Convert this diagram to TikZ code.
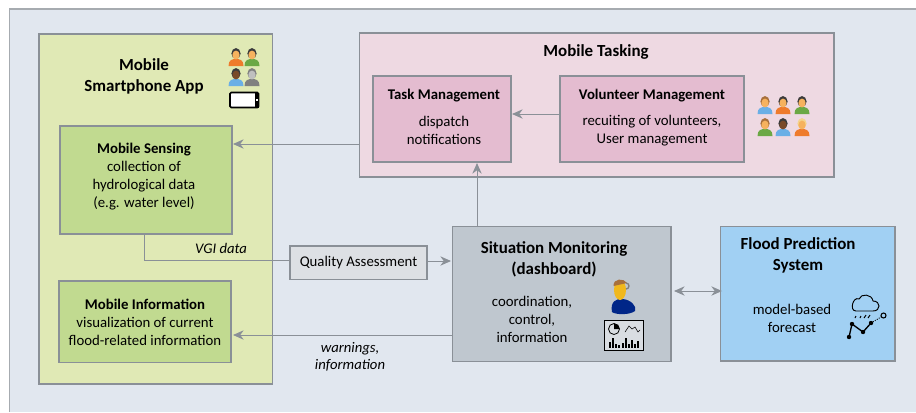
\documentclass[tikz,border=0pt]{standalone}
\usepackage{fontspec}
\usetikzlibrary{arrows.meta}
\setmainfont{Carlito}

\definecolor{framegray}{HTML}{A6ABB0}
\definecolor{linegray}{HTML}{8A9097}
\definecolor{backblue}{HTML}{E1E7EF}
\definecolor{appgreen}{HTML}{E0E9B5}
\definecolor{modgreen}{HTML}{C1DA90}
\definecolor{taskpink}{HTML}{EED9E2}
\definecolor{modpink}{HTML}{E4BCD0}
\definecolor{qualgray}{HTML}{DDE0E4}
\definecolor{monigray}{HTML}{BFC7CF}
\definecolor{floodblue}{HTML}{A1D0F3}
\definecolor{skintone}{HTML}{F6B25E}
\definecolor{darkskin}{HTML}{7A4A28}
\definecolor{hairdark}{HTML}{3B3B3B}
\definecolor{hairbrown}{HTML}{A8703C}
\definecolor{hairblond}{HTML}{F4D48C}
\definecolor{shirtblue}{HTML}{6AAFE6}
\definecolor{shirtorange}{HTML}{EE7B2C}
\definecolor{shirtgreen}{HTML}{6BA845}

\tikzset{
	box/.style={draw=linegray, line width=1pt, inner sep=0pt, align=center},
	title/.style={font=\fontsize{12.7}{15.75}\selectfont\bfseries, align=center, inner sep=0pt, yshift=-1pt},
	subtitle/.style={font=\fontsize{11.1}{13.5}\selectfont\bfseries, align=center, inner sep=0pt, yshift=-1pt},
	body/.style={font=\fontsize{11.1}{13.5}\selectfont, align=center, inner sep=0pt, yshift=-1pt},
	note/.style={font=\fontsize{11}{12.75}\selectfont\itshape, align=center, inner sep=0pt},
	flow/.style={draw=linegray, line width=0.75pt, -{Stealth[length=8pt,width=7pt]}},
	plainflow/.style={draw=linegray, line width=0.75pt},
	pics/person/.style n args={3}{code={
		\fill[#3] (-7.5,9) .. controls (-7.5,3) and (-4,2) .. (0,2) .. controls (4,2) and (7.5,3) .. (7.5,9) -- cycle;
		\fill[#2] (0,-3.5) ellipse (4.6 and 5.4);
		\fill[#1] (0,-2) ellipse (3.6 and 4.4);
	}}
}

\begin{document}
\begin{tikzpicture}[x=0.75pt, y=-0.75pt]
	\useasboundingbox (0,0) rectangle (916,412);
	\fill[framegray] (9,8) rectangle (916,412);
	\fill[backblue] (10,9.5) rectangle (916,412);

	% containers
	\node[box, fill=appgreen, minimum width=175pt, minimum height=262.5pt] (app) at (155.5,209) {};
	\node[box, fill=taskpink, minimum width=356pt, minimum height=108pt] (tasking) at (596.5,105) {};

	% modules
	\node[box, fill=modgreen, minimum width=129pt, minimum height=81pt] (sensing) at (146,180) {};
	\node[box, fill=modgreen, minimum width=129pt, minimum height=61pt] (information) at (145,321.5) {};
	\node[box, fill=modpink, minimum width=103.5pt, minimum height=64.5pt] (taskmgmt) at (442,119) {};
	\node[box, fill=modpink, minimum width=138pt, minimum height=64.5pt] (volunteer) at (652,119) {};
	\node[box, fill=qualgray, minimum width=102.75pt, minimum height=25pt, font=\fontsize{11.1}{13.5}\selectfont] (quality) at (358.5,262.5) {Quality Assessment};
	\node[box, fill=monigray, minimum width=164pt, minimum height=101pt] (situation) at (561.5,294) {};
	\node[box, fill=floodblue, minimum width=131pt, minimum height=101pt] (flood) at (807.5,293.5) {};

	% texts
	\node[title] (apptitle) at (144,75.5) {Mobile\\Smartphone App};
	\node[title] (tasktitle) at (596,51) {Mobile Tasking};
	\node[subtitle] (sensetitle) at (144,148) {Mobile Sensing};
	\node[body] (sensetext) at (144,184) {collection of\\hydrological data\\(e.g. water level)};
	\node[subtitle] (infotitle) at (145,303) {Mobile Information};
	\node[body] (infotext) at (145,330) {visualization of current\\flood-related information};
	\node[subtitle] (mgmttitle) at (444,94) {Task Management};
	\node[body] (mgmttext) at (444,129) {dispatch\\notifications};
	\node[subtitle] (voltitle) at (652,94) {Volunteer Management};
	\node[body] (voltext) at (652,129) {recuiting of volunteers,\\User management};
	\node[title] (sittitle) at (554,257.5) {Situation Monitoring\\(dashboard)};
	\node[body] (sittext) at (532,318) {coordination,\\control,\\information};
	\node[title] (floodtitle) at (798,254.5) {Flood Prediction\\System};
	\node[body] (floodtext) at (792,317) {model-based\\forecast};
	\node[note] (vgi) at (221,248) {VGI data};
	\node[note] (warn) at (350,357) {warnings,\\information};

	% connectors
	\coordinate (taskout) at (359,144);
	\coordinate (sensein) at (233,144);
	\coordinate (volout) at (560,114);
	\coordinate (mgmtin) at (512,114);
	\coordinate (sitout) at (477,227);
	\coordinate (mgmtbot) at (477,163);
	\coordinate (senseout) at (144,234);
	\coordinate (sitwest) at (452,335);
	\coordinate (infoin) at (233,335);
	\coordinate (qualline) at (290,260);
	\coordinate (qualout) at (427,261);
	\coordinate (sitin) at (451,261);
	\coordinate (sitright) at (674,291);
	\coordinate (floodleft) at (722,291);

	\draw[flow] (taskout) -- (sensein);
	\draw[flow] (volout) -- (mgmtin);
	\draw[flow] (sitout) -- (mgmtbot);
	\draw[plainflow] (senseout) |- (qualline);
	\draw[flow] (qualout) -- (sitin);
	\draw[flow] (sitwest) -- (infoin);
	\draw[flow, {Stealth[length=8pt,width=7pt]}-{Stealth[length=8pt,width=7pt]}] (sitright) -- (floodleft);

	% people
	\pic at (236,57) {person={skintone}{hairdark}{shirtorange}};
	\pic at (252,57) {person={skintone}{hairdark}{shirtgreen}};
	\pic at (236,77) {person={darkskin}{hairdark}{shirtblue}};
	\pic at (252,77) {person={lightgray}{gray}{gray}};
	\pic at (765,105) {person={skintone}{hairbrown}{shirtblue}};
	\pic at (783,105) {person={skintone}{hairdark}{shirtorange}};
	\pic at (802,105) {person={skintone}{hairdark}{shirtgreen}};
	\pic at (765,127) {person={skintone}{hairbrown}{shirtgreen}};
	\pic at (783,127) {person={darkskin}{hairdark}{shirtblue}};
	\pic at (802,127) {person={skintone}{hairblond}{shirtorange}};

	% phone
	\draw[black, line width=1.2pt, fill=white, rounded corners=1pt] (230,92.5) rectangle (258.5,107.5);
	\fill[black] (254.5,92.5) rectangle (258.5,107.5);
	\fill[white] (256,99) rectangle (257.5,101);

	% operator
	\fill[blue!45!black!85!cyan] (612,312) .. controls (610,302) and (616,298) .. (623,299) .. controls (631,300) and (637,306) .. (635,311) .. controls (630,315) and (616,315) .. (612,312) -- cycle;
	\fill[yellow!55!orange!80!brown] (620,290) ellipse (6 and 10);
	\fill[hairbrown] (613.5,286) .. controls (613,278) and (624,278) .. (627,283) -- cycle;
	\draw[gray, line width=1pt] (626,283) arc[start angle=-90, end angle=90, radius=3] ;

	% dashboard
	\draw[black, line width=0.75pt, fill=monigray!60!white] (604.5,320) rectangle (643.5,350);
	\draw[black, line width=0.6pt] (614,329) circle (5.5);
	\fill[black] (614,329) -- (614,323.5) arc[start angle=-90, end angle=0, radius=5.5] -- cycle;
	\draw[black, line width=0.4pt] (625,332) -- (629,326) -- (632,329) -- (635,327) -- (638,332) -- (640,330);
	\foreach \barx/\bary in {609/342,612/338,615/344,618/345,622/343,625/338,628/344,631/340,634/344,637/341}
		\fill[black] (\barx,347.5) rectangle (\barx+2,\bary);

	% cloud and forecast line
	\draw[black, line width=0.7pt] (856,311) -- (873,311) .. controls (881,311) and (881,301) .. (873,301) .. controls (872,294) and (861,293) .. (859,299) .. controls (853,296) and (849,311) .. (856,311) -- cycle;
	\draw[black, line width=0.7pt] (855,318) -- (856,316) (860,318) -- (861,316) (864,318) -- (866,315) (868,318) -- (870,315);
	\draw[black, line width=1pt] (849,337) -- (852,324) -- (863,332) -- (871,323);
	\draw[black, line width=0.7pt, densely dotted] (871,323) -- (881,317);
	\foreach \dotx/\doty in {849/337,852/324,863/332,871/323}
		\fill[black] (\dotx,\doty) circle (2.2);
	\draw[black, line width=0.8pt] (883.5,315.5) circle (2.5);
\end{tikzpicture}
\end{document}
